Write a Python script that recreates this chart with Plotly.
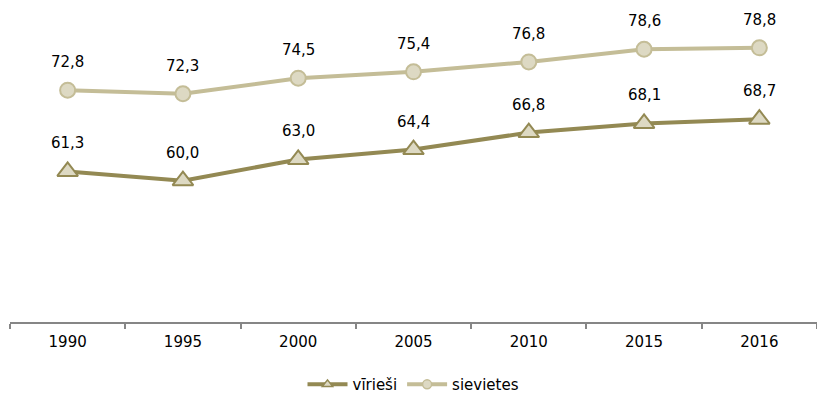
import plotly.graph_objects as go

years = ["1990", "1995", "2000", "2005", "2010", "2015", "2016"]
virieši = [61.3, 60.0, 63.0, 64.4, 66.8, 68.1, 68.7]
sievietes = [72.8, 72.3, 74.5, 75.4, 76.8, 78.6, 78.8]
names = ["vīrieši", "sievietes"]

FONT = "DejaVu Sans, Verdana, sans-serif"
dark = "#938953"
light = "#C4BD97"
fill = "#DDD9C3"

fig = go.Figure()
styles = [
    (virieši, names[0], dark, "triangle-up", 18),
    (sievietes, names[1], light, "circle", 15),
]
for vals, name, col, sym, sz in styles:
    fig.add_trace(go.Scatter(
        x=years, y=vals, name=name, mode="lines+markers", showlegend=False,
        line=dict(color=col, width=4),
        marker=dict(symbol=sym, size=sz, color=fill, line=dict(color=col, width=2)),
    ))
for vals, name, col, sym, sz in styles:
    fig.add_trace(go.Scatter(
        x=[None], y=[None], name=name, mode="lines+markers", showlegend=True,
        line=dict(color=col, width=4),
        marker=dict(symbol=sym, size=9, color=fill, line=dict(color=col, width=1.5)),
    ))

def fmt(v):
    return f"{v:.1f}".replace(".", ",")

for series in (virieši, sievietes):
    for i, v in enumerate(series):
        fig.add_annotation(x=i, y=v, xref="x", yref="y", text=fmt(v), showarrow=False, yshift=28,
                           font=dict(family=FONT, size=15, color="#000000"))

fig.update_layout(
    width=817, height=396,
    margin=dict(l=10, r=0, t=4, b=74, autoexpand=False),
    plot_bgcolor="white", paper_bgcolor="white",
    font=dict(family=FONT, size=15, color="#000000"),
    showlegend=True,
    legend=dict(orientation="h", x=0.5, xanchor="center", y=-0.145, yanchor="top",
                font=dict(family=FONT, size=15), itemwidth=40),
    xaxis=dict(
        type="category", automargin=False, showgrid=False, showline=True, linecolor="#868686", linewidth=1.5,
        ticks="outside", tickson="boundaries", ticklen=5, tickcolor="#868686", tickwidth=1.5,
        tickfont=dict(family=FONT, size=15), range=[-0.5, 6.5], ticklabelstandoff=5,
    ),
    yaxis=dict(range=[40, 85], visible=False, showgrid=False, zeroline=False),
)

fig.write_html("out.html", config={"displayModeBar": False},
               post_script="document.body.style.margin='0';document.body.style.overflow='hidden';")
